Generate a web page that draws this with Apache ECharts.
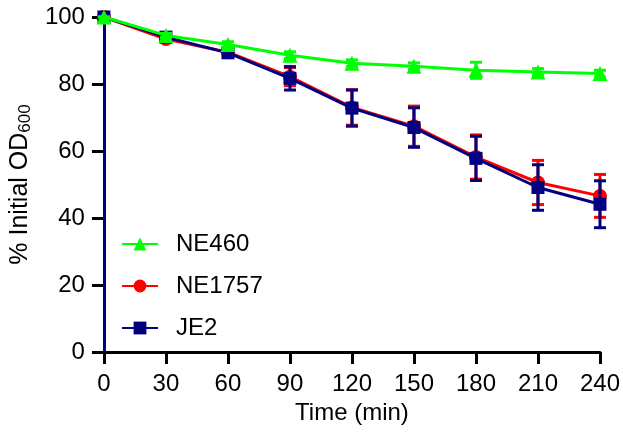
<!DOCTYPE html>
<html>
<head>
<meta charset="utf-8">
<script src="https://cdn.jsdelivr.net/npm/echarts@6/dist/echarts.min.js"></script>
<style>
  html, body { margin: 0; padding: 0; background: #fff; }
  #chart { width: 623px; height: 434px; }
</style>
</head>
<body>
<div id="chart"></div>
<script>
// Sampling times (min)
const times = [0, 30, 60, 90, 120, 150, 180, 210, 240];

// Mean % initial OD600 per strain
const ne460  = [100, 94.5, 91.8, 88.6, 86.2, 85.3, 84.1, 83.6, 83.1];
const ne1757 = [100, 93.4, 89.5, 82.2, 73.0, 67.4, 58.2, 50.6, 46.6];
const je2    = [100, 94.0, 89.3, 81.7, 72.8, 67.0, 57.8, 49.1, 44.1];

// Standard deviations
const ne460Err  = [0, 0.6, 0.8, 1.0, 1.0, 1.0, 2.4, 1.0, 1.0];
const ne1757Err = [0, 0.8, 1.0, 2.7, 5.3, 6.0, 6.6, 6.6, 6.4];
const je2Err    = [0, 0.8, 1.0, 3.5, 5.4, 5.9, 6.6, 6.8, 7.0];

const seriesNames  = ['NE460', 'NE1757', 'JE2'];
const seriesColors = ['#00ff00', '#ff0000', '#000080'];

const FONT = '"Liberation Sans", Arial, sans-serif';

function points(vals) {
  return times.map((t, i) => [t, vals[i]]);
}
function errPoints(vals, errs) {
  return times.map((t, i) => [t, vals[i] - errs[i], vals[i] + errs[i]]);
}

// Vertical error bar with caps, positioned through the chart's coordinate system
function errorBar(color, z, vals, errs) {
  return {
    type: 'custom',
    z: z,
    silent: true,
    data: errPoints(vals, errs),
    clip: false,
    renderItem: function (params, api) {
      const x = api.value(0);
      const lo = api.coord([x, api.value(1)]);
      const hi = api.coord([x, api.value(2)]);
      const half = 6;
      const style = { stroke: color, lineWidth: 3 };
      return {
        type: 'group',
        children: [
          { type: 'line', shape: { x1: lo[0], y1: lo[1], x2: hi[0], y2: hi[1] }, style: style },
          { type: 'line', shape: { x1: lo[0] - half, y1: lo[1], x2: lo[0] + half, y2: lo[1] }, style: style },
          { type: 'line', shape: { x1: hi[0] - half, y1: hi[1], x2: hi[0] + half, y2: hi[1] }, style: style }
        ]
      };
    }
  };
}

function lineSeries(name, color, symbol, size, vals, z) {
  return {
    name: name,
    type: 'line',
    z: z,
    data: points(vals),
    symbol: symbol,
    symbolSize: size,
    showSymbol: true,
    clip: false,
    lineStyle: { color: color, width: 3 },
    itemStyle: { color: color },
    emphasis: { disabled: true }
  };
}

const chart = echarts.init(document.getElementById('chart'), null, { renderer: 'canvas' });

chart.setOption({
  animation: false,
  backgroundColor: '#ffffff',
  grid: { left: 101, right: 23, top: 17, bottom: 82, containLabel: false },
  legend: {
    orient: 'vertical',
    left: 116,
    top: 227,
    itemWidth: 36,
    itemHeight: 16,
    itemGap: 18,
    data: seriesNames,
    textStyle: { fontFamily: FONT, fontSize: 24, color: '#000', padding: [0, 0, 0, 13] }
  },
  xAxis: {
    type: 'value',
    min: 0,
    max: 240,
    interval: 30,
    name: 'Time (min)',
    nameLocation: 'middle',
    nameGap: 49,
    nameTextStyle: { fontFamily: FONT, fontSize: 24, color: '#000' },
    axisLine: { onZero: false, lineStyle: { color: '#000', width: 3 } },
    axisTick: { show: true, length: 12, lineStyle: { color: '#000', width: 3 } },
    axisLabel: { fontFamily: FONT, fontSize: 24, color: '#000', margin: 20 },
    splitLine: { show: false }
  },
  yAxis: {
    type: 'value',
    min: 0,
    max: 100,
    interval: 20,
    name: '{a|% Initial OD}{s|600}',
    nameLocation: 'middle',
    nameRotate: 90,
    nameGap: 60,
    nameTextStyle: {
      fontFamily: FONT,
      color: '#000',
      rich: {
        a: { fontFamily: FONT, fontSize: 25, color: '#000' },
        s: { fontFamily: FONT, fontSize: 17, color: '#000', padding: [10, 0, 0, 0] }
      }
    },
    axisLine: { show: true, lineStyle: { color: '#000080', width: 3 } },
    axisTick: { show: true, length: 12, lineStyle: { color: '#000', width: 3 } },
    axisLabel: { fontFamily: FONT, fontSize: 24, color: '#000', margin: 19 },
    splitLine: { show: false }
  },
  series: [
    errorBar(seriesColors[1], 2, ne1757, ne1757Err),
    lineSeries('NE1757', seriesColors[1], 'circle', 14, ne1757, 3),
    errorBar(seriesColors[2], 4, je2, je2Err),
    lineSeries('JE2', seriesColors[2], 'rect', 13, je2, 5),
    errorBar(seriesColors[0], 6, ne460, ne460Err),
    lineSeries('NE460', seriesColors[0], 'triangle', 15, ne460, 7)
  ]
});
</script>
</body>
</html>
